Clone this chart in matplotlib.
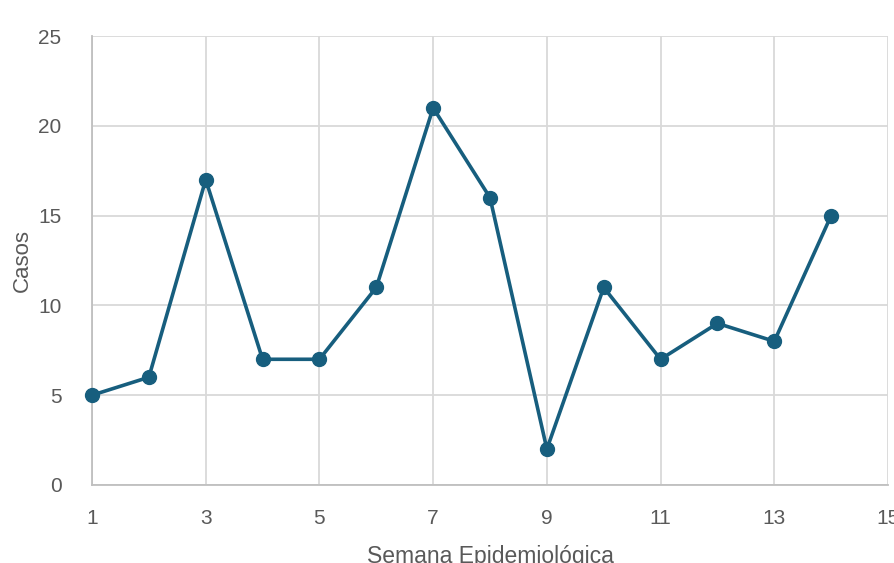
import matplotlib
matplotlib.use("Agg")
import matplotlib.pyplot as plt

semanas = [1, 2, 3, 4, 5, 6, 7, 8, 9, 10, 11, 12, 13, 14]
casos = [5, 6, 17, 7, 7, 11, 21, 16, 2, 11, 7, 9, 8, 15]
xticks = [1, 3, 5, 7, 9, 11, 13, 15]
yticks = [0, 5, 10, 15, 20, 25]

plt.rcParams['font.family'] = ['Liberation Sans', 'DejaVu Sans']

fig = plt.figure(figsize=(8.94, 5.63), dpi=100)
ax = fig.add_axes([92/894, 1-485/563, (888-92)/894, (485-36)/563])

line_color = '#175E7E'
ax.plot(semanas, casos, color=line_color, linewidth=2.6, marker='o',
        markersize=10, markerfacecolor=line_color, markeredgecolor=line_color,
        zorder=3, clip_on=False)

ax.set_xlim(1, 15)
ax.set_ylim(0, 25)
ax.set_xticks(xticks)
ax.set_yticks(yticks)
ax.grid(True, color='#D9D9D9', linewidth=1.3)
ax.set_axisbelow(True)
for s in ['top', 'right']:
    ax.spines[s].set_visible(False)
for s in ['left', 'bottom']:
    ax.spines[s].set_color('#BFBFBF')
    ax.spines[s].set_linewidth(1.3)
ax.tick_params(axis='both', length=0, labelsize=15, labelcolor='#595959')
ax.tick_params(axis='y', pad=22)
ax.tick_params(axis='x', pad=17)

ax.set_ylabel('Casos', fontsize=16, color='#595959', va='center')
ax.yaxis.set_label_coords((22 - 92) / 796, 0.5)
ax.set_xlabel('Semana Epidemiológica', fontsize=16.5, color='#595959', va='center')
ax.xaxis.set_label_coords(0.5, (485 - 556) / 449)

fig.savefig('out.png', dpi=100)
